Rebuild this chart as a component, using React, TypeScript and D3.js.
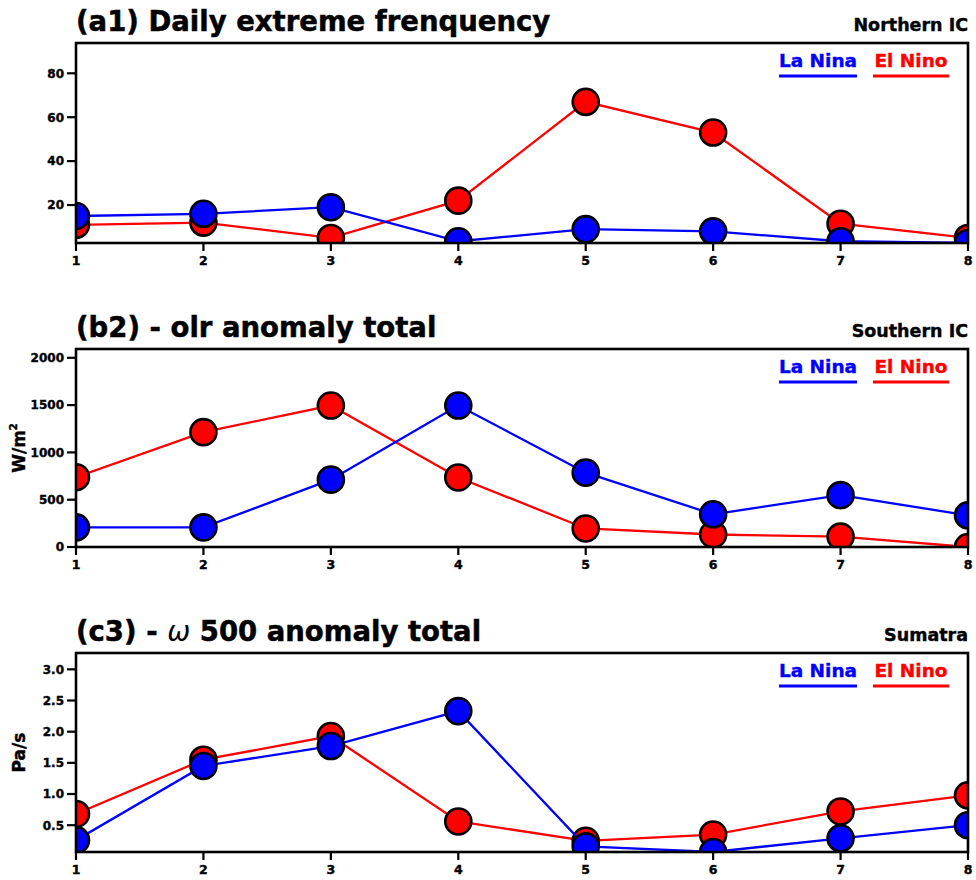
import React from "react";
import * as d3 from "d3";

// Phase index (1..8)
const phases = [1, 2, 3, 4, 5, 6, 7, 8];

// (a1) daily extreme frequency, Northern IC
const freqLaNina = [15, 16, 19, 3.5, 9, 8, 3.5, 2.7];
const freqElNino = [11, 12, 5, 22, 67, 53, 11.5, 5];

// (b2) OLR anomaly total, Southern IC
const olrLaNina = [207, 207, 712, 1495, 786, 346, 548, 335];
const olrElNino = [738, 1214, 1495, 735, 196, 132, 110, 0];

// (c3) omega 500 anomaly total, Sumatra
const omegaLaNina = [0.26, 1.45, 1.77, 2.33, 0.16, 0.07, 0.29, 0.5];
const omegaElNino = [0.68, 1.55, 1.93, 0.56, 0.25, 0.35, 0.72, 0.98];

const ticksA = [20, 40, 60, 80];
const ticksB = [0, 500, 1000, 1500, 2000];
const ticksC = [0.5, 1.0, 1.5, 2.0, 2.5, 3.0];

const BLUE = "#0000ff";
const RED = "#ff0000";
const FONT = "'DejaVu Sans', sans-serif";

const W = 976;
const H = 880;
const LEFT = 76;
const RIGHT = 968;

type PanelProps = {
  id: string;
  top: number;
  height: number;
  title: React.ReactNode;
  region: string;
  yLabel?: React.ReactNode;
  ticks: number[];
  fmt: (v: number) => string;
  laNina: number[];
  elNino: number[];
};

function Panel({ id, top, height, title, region, yLabel, ticks, fmt, laNina, elNino }: PanelProps) {
  const bottom = top + height;
  const all = laNina.concat(elNino);
  const x = d3.scaleLinear().domain([1, 8]).range([LEFT, RIGHT]);
  const y = d3
    .scaleLinear()
    .domain([d3.min(all) as number, (d3.max(all) as number) * 1.4])
    .range([bottom, top]);
  const line = d3
    .line<number>()
    .x((_, i) => x(phases[i]))
    .y((d) => y(d));
  const clipId = `clip-${id}`;

  const series = [
    { data: elNino, color: RED },
    { data: laNina, color: BLUE },
  ];

  return (
    <g>
      <defs>
        <clipPath id={clipId}>
          <rect x={LEFT} y={top} width={RIGHT - LEFT} height={height} />
        </clipPath>
      </defs>
      {/* titles */}
      <text
        x={LEFT}
        y={top - 12}
        fontFamily={FONT}
        fontWeight="bold"
        fontSize={27.5}
        fill="#000"
        stroke="#000"
        strokeWidth={0.5}
      >
        {title}
      </text>
      <text
        x={RIGHT}
        y={top - 12}
        textAnchor="end"
        fontFamily={FONT}
        fontWeight="bold"
        fontSize={17.5}
        fill="#000"
        stroke="#000"
        strokeWidth={0.4}
      >
        {region}
      </text>

      {/* series */}
      <g clipPath={`url(#${clipId})`}>
        {series.map((s, si) => (
          <g key={si}>
            <path d={line(s.data) || ""} fill="none" stroke={s.color} strokeWidth={2.3} />
            {s.data.map((v, i) => (
              <circle key={i} cx={x(phases[i])} cy={y(v)} r={13} fill={s.color} stroke="#000" strokeWidth={2.6} />
            ))}
          </g>
        ))}
      </g>

      {/* frame */}
      <rect x={LEFT} y={top} width={RIGHT - LEFT} height={height} fill="none" stroke="#000" strokeWidth={2.6} />

      {/* y axis ticks */}
      {ticks.map((t) => (
        <g key={t}>
          <line x1={LEFT - 9} x2={LEFT} y1={y(t)} y2={y(t)} stroke="#000" strokeWidth={2.2} />
          <text
            x={LEFT - 12}
            y={y(t)}
            dy="0.36em"
            textAnchor="end"
            fontFamily={FONT}
            fontWeight="bold"
            fontSize={12}
            fill="#000"
            stroke="#000"
            strokeWidth={0.4}
          >
            {fmt(t)}
          </text>
        </g>
      ))}

      {/* x axis ticks */}
      {phases.map((p) => (
        <g key={p}>
          <line x1={x(p)} x2={x(p)} y1={bottom} y2={bottom + 8} stroke="#000" strokeWidth={2.2} />
          <text
            x={x(p)}
            y={bottom + 22}
            textAnchor="middle"
            fontFamily={FONT}
            fontWeight="bold"
            fontSize={12.5}
            fill="#000"
            stroke="#000"
            strokeWidth={0.4}
          >
            {p}
          </text>
        </g>
      ))}

      {/* y label */}
      {yLabel && (
        <text
          transform={`translate(${25},${(top + bottom) / 2}) rotate(-90)`}
          textAnchor="middle"
          fontFamily={FONT}
          fontWeight="bold"
          fontSize={17}
          fill="#000"
          stroke="#000"
          strokeWidth={0.4}
        >
          {yLabel}
        </text>
      )}

      {/* legend */}
      <text
        x={818}
        y={top + 24}
        textAnchor="middle"
        fontFamily={FONT}
        fontWeight="bold"
        fontSize={18.5}
        fill={BLUE}
        stroke={BLUE}
        strokeWidth={0.4}
      >
        La Nina
      </text>
      <line x1={779} x2={857} y1={top + 33} y2={top + 33} stroke={BLUE} strokeWidth={3} />
      <text
        x={911}
        y={top + 24}
        textAnchor="middle"
        fontFamily={FONT}
        fontWeight="bold"
        fontSize={18.5}
        fill={RED}
        stroke={RED}
        strokeWidth={0.4}
      >
        El Nino
      </text>
      <line x1={873} x2={949} y1={top + 33} y2={top + 33} stroke={RED} strokeWidth={3} />
    </g>
  );
}

export default function App() {
  const f0 = d3.format("d");
  const f1 = d3.format(".1f");
  return (
    <svg width={W} height={H} style={{ position: "absolute", left: 0, top: 0, background: "#fff" }}>
      <rect width={W} height={H} fill="#fff" />
      <Panel
        id="a"
        top={43}
        height={200}
        title="(a1) Daily extreme frenquency"
        region="Northern IC"
        ticks={ticksA}
        fmt={f0}
        laNina={freqLaNina}
        elNino={freqElNino}
      />
      <Panel
        id="b"
        top={349}
        height={198}
        title="(b2) - olr anomaly total"
        region="Southern IC"
        yLabel={
          <>
            W/m
            <tspan dy={-8} fontSize={10}>
              2
            </tspan>
          </>
        }
        ticks={ticksB}
        fmt={f0}
        laNina={olrLaNina}
        elNino={olrElNino}
      />
      <Panel
        id="c"
        top={653}
        height={199}
        title={
          <>
            (c3) -{" "}
            <tspan fontWeight="normal" fontStyle="italic" strokeWidth={0}>
              ω
            </tspan>{" "}
            500 anomaly total
          </>
        }
        region="Sumatra"
        yLabel="Pa/s"
        ticks={ticksC}
        fmt={f1}
        laNina={omegaLaNina}
        elNino={omegaElNino}
      />
    </svg>
  );
}
